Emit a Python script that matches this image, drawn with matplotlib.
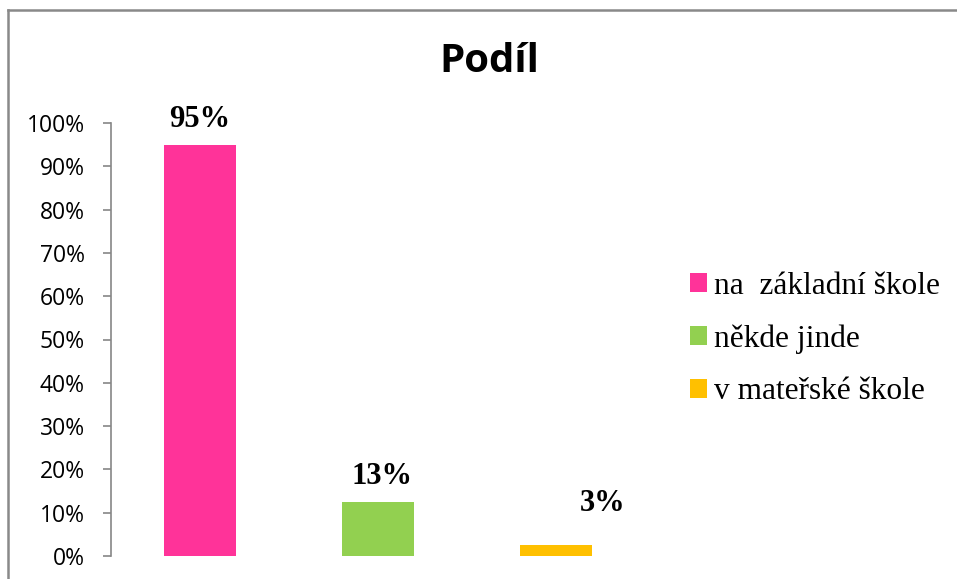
#!/usr/bin/env python3
from matplotlib import pyplot as plt
from matplotlib.patches import Patch
from matplotlib.lines import Line2D

categories = ["na  základní škole", "někde jinde", "v mateřské škole"]
values = [0.95, 0.125, 0.025]
value_labels = ["95%", "13%", "3%"]
colors = ["#FF3399", "#92D050", "#FFC000"]
yticks = [0.0, 0.1, 0.2, 0.3, 0.4, 0.5, 0.6, 0.7, 0.8, 0.9, 1.0]
ytick_labels = ["0%", "10%", "20%", "30%", "40%", "50%", "60%", "70%", "80%", "90%", "100%"]

grey = "#868686"


def main():
    fig = plt.figure(figsize=(9.57, 5.79), dpi=100)
    ax = fig.add_axes([111 / 957, 23 / 579, 534 / 957, 433 / 579])

    xs = range(len(values))
    ax.bar(xs, values, width=0.4, color=colors)
    ax.set_xlim(-0.5, 2.5)
    ax.set_ylim(0, 1)

    # data labels (the last one was moved by hand in the original)
    dx = [0, 0.02, 0.26]
    dy = [0.058, 0.058, 0.097]
    for i, (v, lab) in enumerate(zip(values, value_labels)):
        ax.text(i + dx[i], v + dy[i], lab, ha="center", va="center",
                family="Liberation Serif", fontweight="bold", fontsize=22)

    ax.set_yticks(yticks)
    ax.set_yticklabels(ytick_labels, family="Open Sans", fontsize=16.5)
    ax.set_xticks([])
    ax.tick_params(axis="y", length=6, width=1.2, color=grey, pad=13)
    for s in ["top", "right", "bottom"]:
        ax.spines[s].set_visible(False)
    ax.spines["left"].set_color(grey)
    ax.spines["left"].set_linewidth(1.2)

    fig.text(489 / 957, 1 - 62 / 579, "Podíl", ha="center", va="center",
             family="Open Sans", fontweight="bold", fontsize=29)

    handles = [Patch(facecolor=c, edgecolor="none") for c in colors]
    fig.legend(handles, categories, loc="center left",
               bbox_to_anchor=(677 / 957, 1 - 339 / 579), frameon=False,
               prop={"family": "Liberation Serif", "size": 22.6},
               handlelength=0.54, handleheight=0.54, handletextpad=0.25,
               labelspacing=0.75, borderaxespad=0)

    # outer chart frame (only left and top edges fall inside the image)
    x0, y0 = 8 / 957, 1 - 10 / 579
    fig.lines.append(Line2D([x0, x0], [-0.05, y0], transform=fig.transFigure,
                            color="#898989", linewidth=1.8))
    fig.lines.append(Line2D([x0, 1.05], [y0, y0], transform=fig.transFigure,
                            color="#898989", linewidth=1.8))

    fig.savefig("out.png", dpi=100)
    plt.close()


if __name__ == '__main__':
    main()
